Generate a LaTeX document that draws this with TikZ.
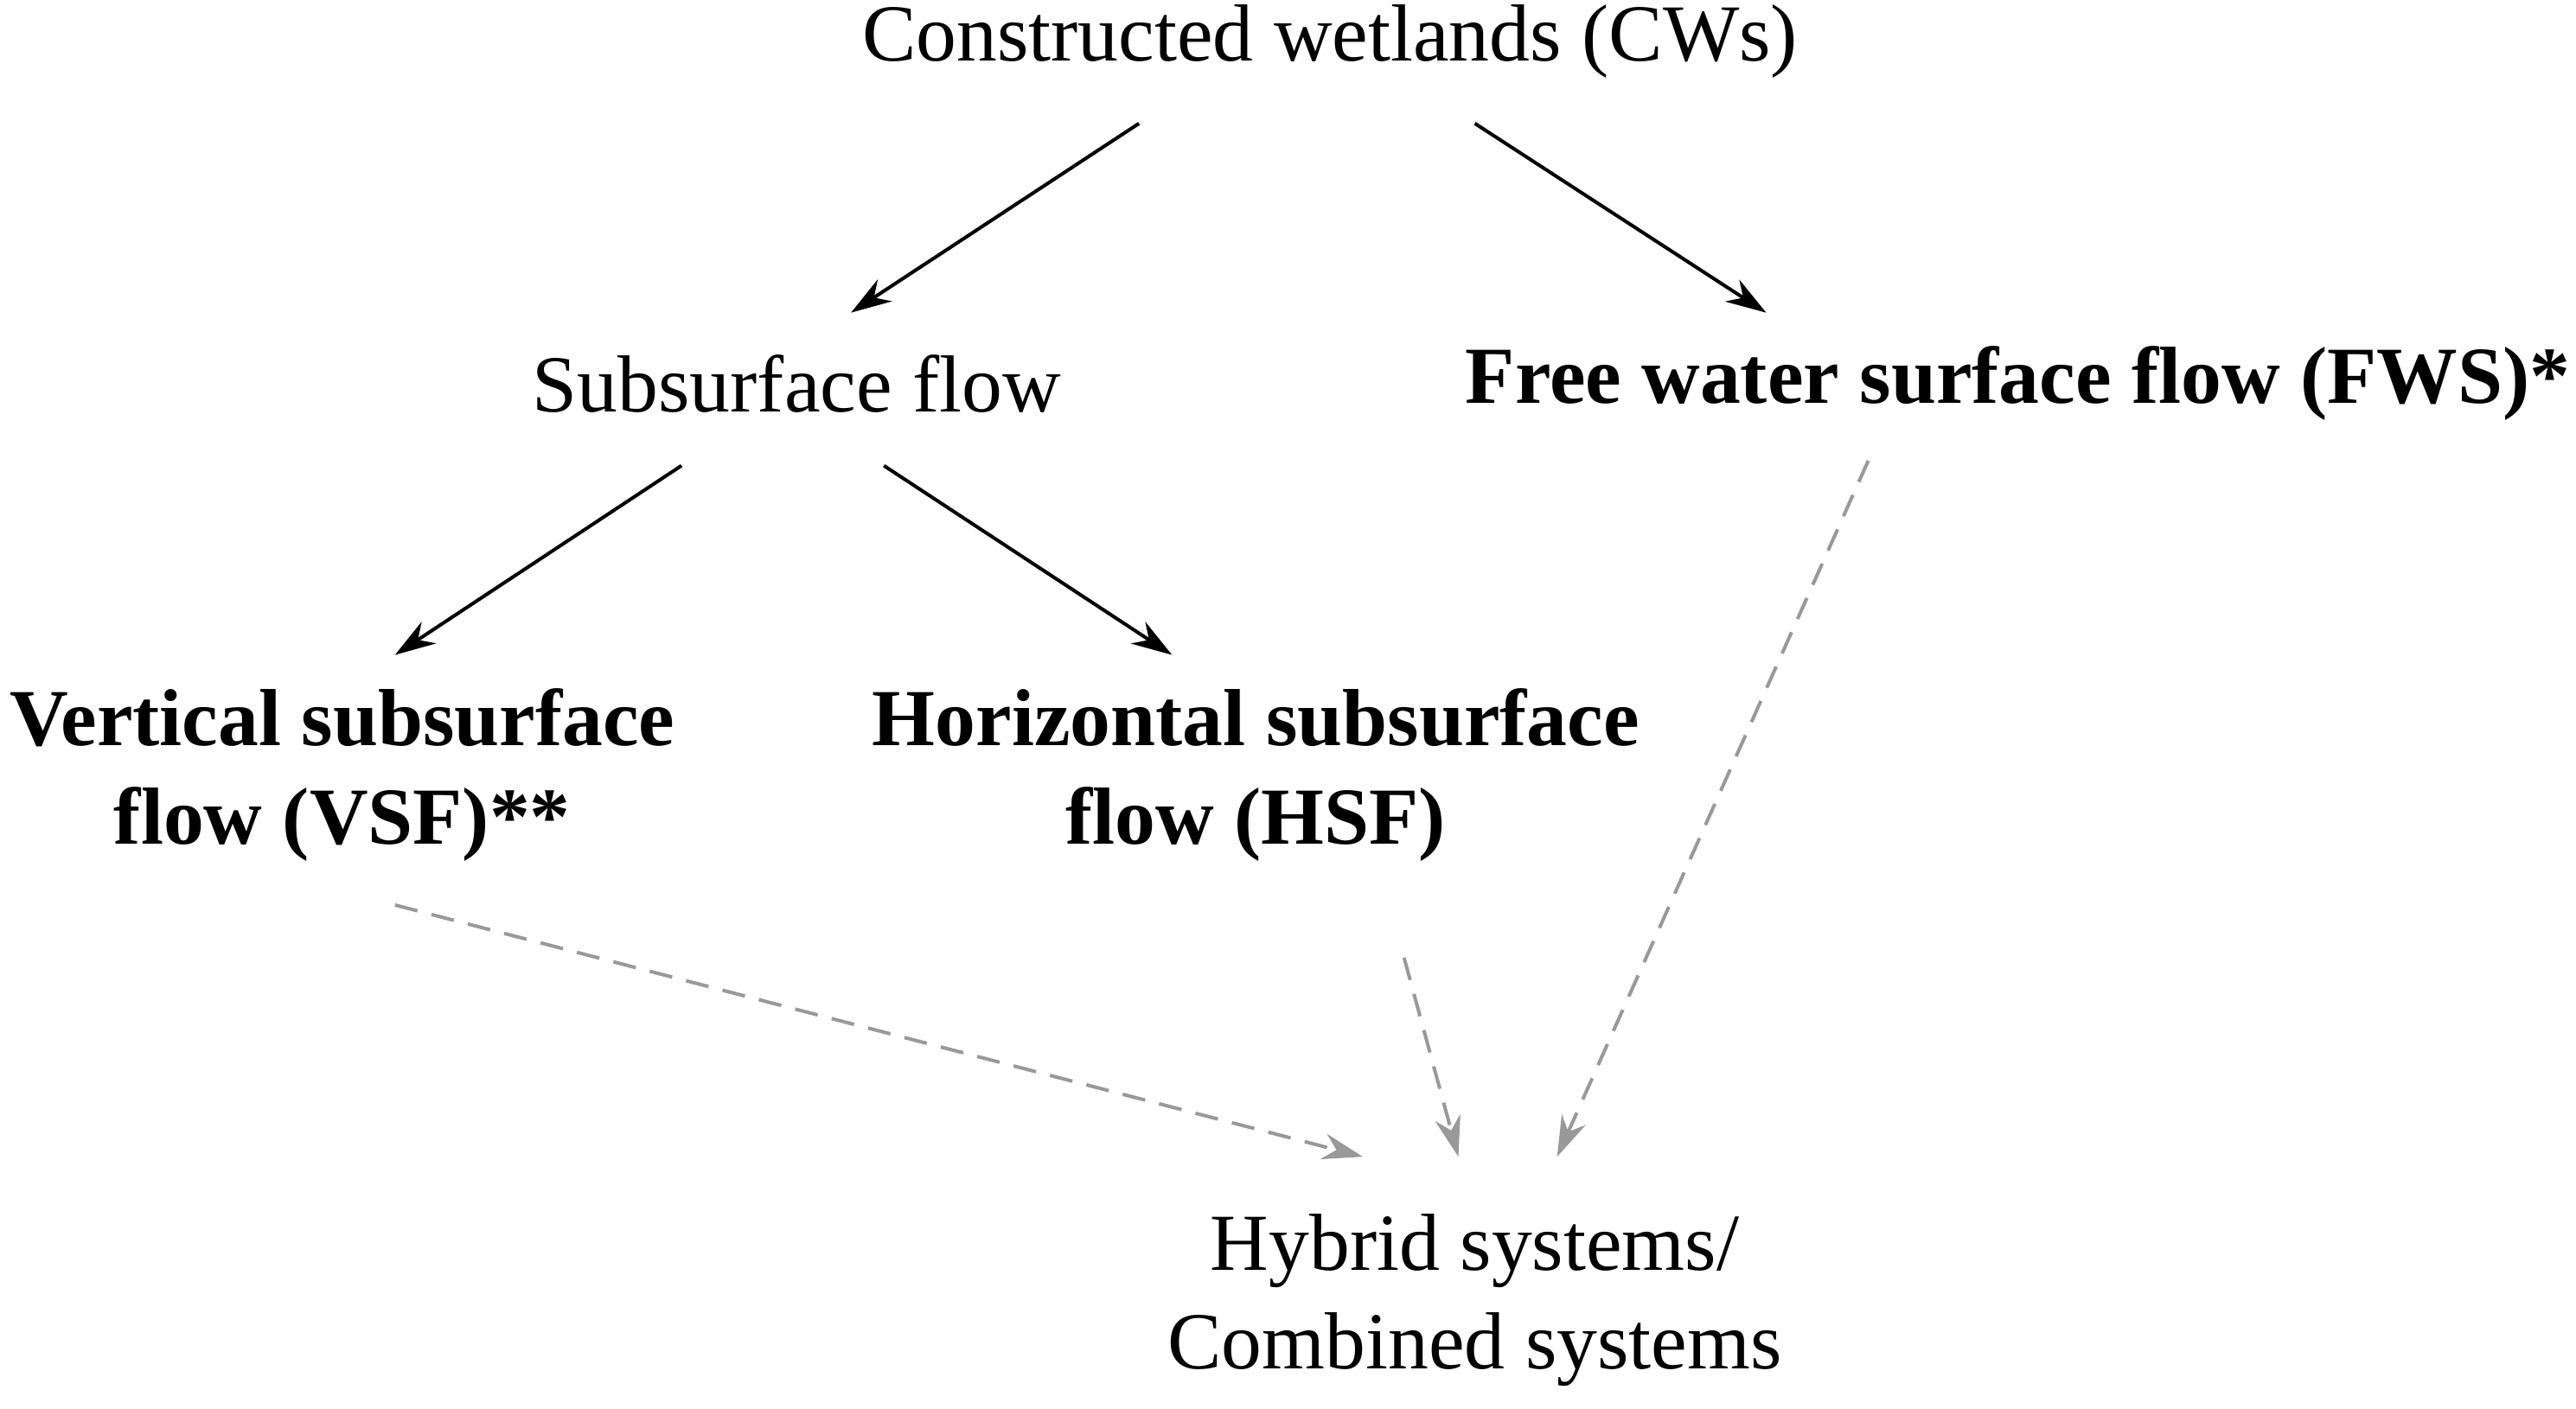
\documentclass[tikz,border=0pt]{standalone}
\usepackage{fontspec}
\setmainfont{Liberation Serif}
\usetikzlibrary{arrows.meta}
\begin{document}
\begin{tikzpicture}[x=0.02cm,y=-0.02cm,
 lbl/.style={font=\fontsize{28}{34}\selectfont,align=center,inner sep=0pt},
 bl/.style={lbl,font=\fontsize{28}{34}\selectfont\bfseries},
 sol/.style={-{Stealth[length=14pt,width=9pt]},line width=1.2pt,black},
 dsh/.style={-{Stealth[length=14pt,width=9pt]},line width=1.2pt,gray!80,dash pattern=on 8pt off 5pt}]
\useasboundingbox (0,0) rectangle (1565,856);
\node[lbl] (cw) at (808,25) {Constructed wetlands (CWs)};
\node[lbl] (sub) at (484,233) {Subsurface flow};
\node[bl] (fws) at (1226,233) {Free water surface flow (FWS)*};
\node[bl] (vsf) at (208,471) {Vertical subsurface\\flow (VSF)**};
\node[bl] (hsf) at (763,471) {Horizontal subsurface\\flow (HSF)};
\node[lbl] (hyb) at (896,790) {Hybrid systems/\\Combined systems};
\coordinate (a1) at (692,75); \coordinate (a2) at (517,190);
\coordinate (b1) at (896,75); \coordinate (b2) at (1073,190);
\coordinate (c1) at (414,283); \coordinate (c2) at (240,398);
\coordinate (d1) at (537,283); \coordinate (d2) at (712,398);
\coordinate (e1) at (240,550); \coordinate (e2) at (828,703);
\coordinate (f1) at (853,582); \coordinate (f2) at (886,703);
\coordinate (g1) at (1135,280); \coordinate (g2) at (946,703);
\draw[sol] (a1) -- (a2);
\draw[sol] (b1) -- (b2);
\draw[sol] (c1) -- (c2);
\draw[sol] (d1) -- (d2);
\draw[dsh] (e1) -- (e2);
\draw[dsh] (f1) -- (f2);
\draw[dsh] (g1) -- (g2);
\end{tikzpicture}
\end{document}
